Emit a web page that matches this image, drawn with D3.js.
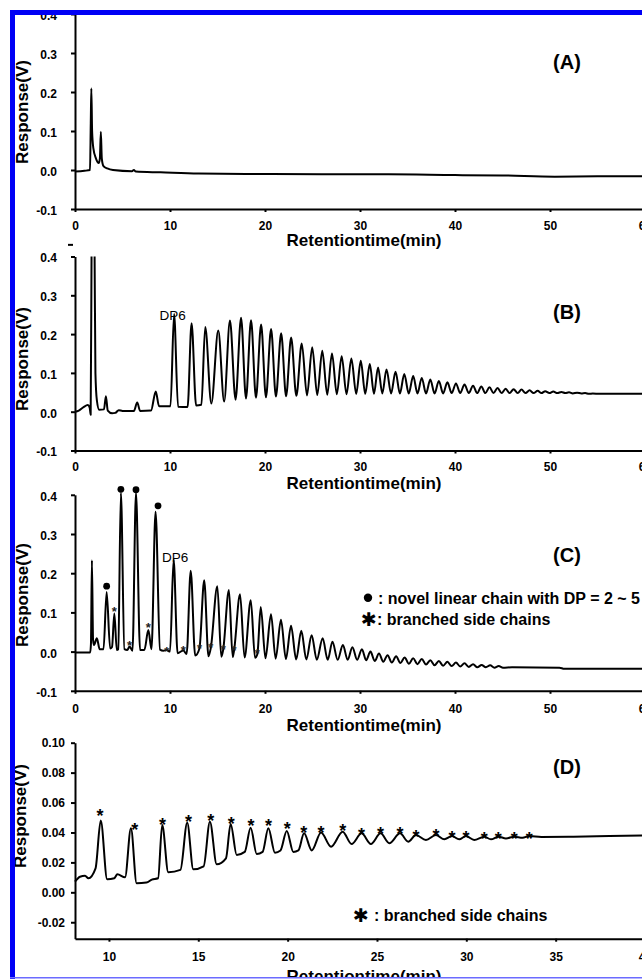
<!DOCTYPE html>
<html>
<head>
<meta charset="utf-8">
<script src="https://cdn.jsdelivr.net/npm/d3@7"></script>
<style>
  html, body { margin: 0; padding: 0; background: #fff; }
  svg { display: block; font-family: "Liberation Sans", Arial, sans-serif; }
  .axis path, .axis line { stroke: #000; stroke-width: 2; }
  .axis text { font-size: 12px; font-weight: bold; fill: #000; font-family: "Liberation Sans", Arial, sans-serif; }
  .trace { fill: none; stroke: #000; stroke-width: 2; stroke-linejoin: round; }
  .xtitle, .ytitle { font-size: 17px; font-weight: bold; text-anchor: middle; }
  .ytitle { dominant-baseline: central; }
  .tag { font-size: 20px; font-weight: bold; text-anchor: middle; }
  .dp { font-size: 13.5px; }
  .legend { font-size: 16px; font-weight: bold; }
  .star { font-weight: bold; text-anchor: middle; }
</style>
</head>
<body>
<svg id="chart" width="642" height="979"></svg>
<script>
// ticks
const xTicks = [0, 10, 20, 30, 40, 50, 60];
const yTicks = [-0.1, 0, 0.1, 0.2, 0.3, 0.4];
const xTicksD = [10, 15, 20, 25, 30, 35, 40];
const yTicksD = [-0.02, 0, 0.02, 0.04, 0.06, 0.08, 0.10];

// traces as [time (min), response (V)]
const traceA = [
  [0, -0.004], [1.0, -0.002], [1.58, 0.0], [1.66, 0.12], [1.72, 0.209], [1.8, 0.1],
  [1.93, 0.056], [2.2, 0.03], [2.5, 0.018], [2.62, 0.03], [2.72, 0.098], [2.82, 0.03],
  [3.0, 0.01], [3.4, 0.004], [4.0, 0.0], [6.0, -0.003], [6.2, 0.0], [6.4, -0.004],
  [9, -0.006], [13, -0.009], [18, -0.010], [26, -0.011], [33, -0.011], [40, -0.013],
  [45, -0.014], [50.5, -0.017], [55, -0.016], [60, -0.016]
];

const traceB = [
  [0, 0.0], [0.4, 0.003], [0.9, 0.012], [1.35, 0.017], [1.55, 0.01], [1.65, -0.008],
  [1.75, 0.45], [1.9, 0.7], [2.05, 0.45], [2.15, 0.1], [2.3, 0.03], [2.55, 0.005],
  [3.05, 0.006], [3.25, 0.04], [3.45, 0.003], [3.9, -0.004], [4.25, -0.003], [4.6, 0.004],
  [5.0, 0.002], [6.2, 0.002], [6.55, 0.024], [6.85, 0.002], [8.0, 0.003], [8.5, 0.052],
  [8.85, 0.014], [10.05, 0.014], [10.43, 0.252], [10.85, 0.013], [11.85, 0.012],
  [12.27, 0.228], [12.75, 0.016], [13.3, 0.018], [13.71, 0.218], [14.35, 0.021],
  [15.08, 0.209], [15.7, 0.026], [16.31, 0.235], [16.9, 0.031], [17.48, 0.242],
  [18.0, 0.034], [18.53, 0.236], [19.05, 0.036], [19.59, 0.225], [20.1, 0.037],
  [20.64, 0.213], [21.15, 0.039], [21.7, 0.202], [22.22, 0.040], [22.75, 0.191],
  [23.3, 0.041], [23.87, 0.176], [24.42, 0.042], [24.97, 0.166], [25.5, 0.043],
  [26.03, 0.157], [26.55, 0.044], [27.05, 0.150], [27.56, 0.045], [28.07, 0.143],
  [28.58, 0.045], [29.09, 0.137], [29.6, 0.046], [30.08, 0.131], [30.55, 0.046],
  [31.03, 0.123], [31.47, 0.046], [31.9, 0.114], [32.35, 0.047], [32.79, 0.109],
  [33.27, 0.047], [33.74, 0.103], [34.2, 0.047], [34.66, 0.097], [35.13, 0.047],
  [35.6, 0.092], [36.05, 0.047], [36.5, 0.087], [36.95, 0.047], [37.4, 0.083],
  [37.85, 0.047], [38.3, 0.079], [38.75, 0.047], [39.2, 0.076], [39.65, 0.048],
  [40.1, 0.073], [40.55, 0.048], [41.0, 0.070], [41.45, 0.048], [41.9, 0.067],
  [42.33, 0.048], [42.77, 0.065], [43.2, 0.048], [43.63, 0.063], [44.05, 0.048],
  [44.48, 0.061], [44.9, 0.048], [45.33, 0.059], [45.75, 0.048], [46.17, 0.058],
  [46.6, 0.048], [47.0, 0.057], [47.42, 0.048], [47.85, 0.055], [48.27, 0.048],
  [48.7, 0.054], [49.1, 0.048], [49.5, 0.053], [49.93, 0.048], [50.35, 0.052],
  [50.77, 0.048], [51.2, 0.051], [51.6, 0.048], [52.0, 0.050], [52.4, 0.047],
  [52.85, 0.049], [53.3, 0.047], [53.7, 0.048], [54.1, 0.046], [54.5, 0.047],
  [55.2, 0.046], [60, 0.046]
];

const traceC = [
  [0, -0.002], [1.6, -0.002], [1.68, 0.02], [1.78, 0.233], [1.9, 0.03], [2.0, 0.017],
  [2.3, 0.034], [2.6, 0.006], [3.0, 0.006], [3.33, 0.152], [3.7, 0.008], [3.9, 0.012],
  [4.14, 0.097], [4.4, 0.004], [4.55, 0.006], [4.83, 0.405], [5.2, 0.006], [5.5, 0.004],
  [5.75, 0.013], [6.05, 0.002], [6.42, 0.405], [6.85, 0.004], [7.3, 0.004], [7.72, 0.055],
  [8.05, 0.006], [8.48, 0.357], [8.95, 0.005], [9.3, 0.002], [9.65, 0.004], [10.0, 0.0],
  [10.38, 0.235], [10.8, -0.004], [11.4, 0.003], [11.75, -0.006], [12.18, 0.206],
  [12.65, -0.010], [13.1, 0.008], [13.6, 0.182], [14.05, -0.012], [14.3, 0.010],
  [14.98, 0.167], [15.4, -0.013], [15.6, 0.005], [16.2, 0.157], [16.6, -0.014],
  [16.75, 0.004], [17.37, 0.146], [17.85, -0.015], [18.5, 0.131], [18.95, -0.016],
  [19.2, -0.006], [19.55, 0.114], [20.05, -0.017], [20.63, 0.095], [21.12, -0.018],
  [21.68, 0.081], [22.2, -0.019], [22.74, 0.066], [23.28, -0.020], [23.82, 0.053],
  [24.35, -0.020], [24.91, 0.042], [25.45, -0.021], [26.07, 0.034], [26.6, -0.021],
  [27.1, 0.025], [27.65, -0.021], [28.2, 0.017], [28.7, -0.021], [29.2, 0.011],
  [29.7, -0.021], [30.2, 0.006], [30.65, -0.022], [31.1, 0.0], [31.55, -0.024],
  [32.0, -0.005], [32.45, -0.026], [32.9, -0.009], [33.35, -0.028], [33.8, -0.012],
  [34.25, -0.029], [34.7, -0.015], [35.15, -0.031], [35.6, -0.017], [36.05, -0.032],
  [36.5, -0.019], [36.95, -0.033], [37.4, -0.022], [37.85, -0.035], [38.3, -0.024],
  [38.75, -0.036], [39.2, -0.026], [39.65, -0.037], [40.1, -0.028], [40.55, -0.038],
  [41.0, -0.030], [41.45, -0.039], [41.9, -0.032], [42.35, -0.040], [42.8, -0.034],
  [43.25, -0.040], [43.7, -0.035], [44.15, -0.041], [44.6, -0.037], [45.05, -0.041],
  [46, -0.040], [51, -0.041], [51.5, -0.044], [60, -0.044]
];

const traceD = [
  [8.1, 0.0071], [8.38, 0.0104], [8.66, 0.011], [8.85, 0.0094], [9.25, 0.016],
  [9.54, 0.048], [9.9, 0.0087], [10.3, 0.0094], [10.47, 0.012], [10.9, 0.010],
  [11.23, 0.0428], [11.55, 0.006], [12.1, 0.0065], [12.4, 0.0085], [12.75, 0.0094],
  [12.98, 0.045], [13.32, 0.0134], [14.0, 0.015], [14.38, 0.0465], [14.72, 0.0154],
  [15.3, 0.0174], [15.65, 0.0472], [16.03, 0.0187], [16.55, 0.0227], [16.81, 0.0457],
  [17.15, 0.025], [17.6, 0.027], [17.93, 0.0432], [18.27, 0.0256], [18.6, 0.027],
  [18.92, 0.0428], [19.29, 0.0265], [19.6, 0.028], [19.95, 0.041], [20.32, 0.027],
  [20.6, 0.028], [20.92, 0.0394], [21.35, 0.028], [21.87, 0.040], [22.43, 0.0305],
  [23.08, 0.0405], [23.58, 0.0323], [24.14, 0.0394], [24.66, 0.0323], [25.2, 0.0394],
  [25.69, 0.0328], [26.29, 0.0394], [26.75, 0.0338], [27.18, 0.0383], [27.74, 0.035],
  [28.3, 0.0383], [28.77, 0.0354], [29.2, 0.0376], [29.6, 0.0354], [29.98, 0.0376],
  [30.44, 0.035], [31.0, 0.0372], [31.38, 0.0354], [31.79, 0.0372], [32.22, 0.036],
  [32.68, 0.0372], [33.15, 0.0365], [33.52, 0.0376], [34.2, 0.037], [36, 0.0372],
  [38, 0.0376], [40, 0.038]
];

// peak markers
const dotsC = [[3.33, 0.167], [4.83, 0.414], [6.42, 0.413], [8.74, 0.372]];
const starsC = [[4.14, 0.110], [5.75, 0.024], [7.72, 0.068], [9.65, 0.008], [11.4, 0.009],
  [13.1, 0.016], [14.3, 0.019], [15.6, 0.012], [16.75, 0.011], [19.2, 0.003]];
const starsD = [[9.5, 0.0539], [11.45, 0.0443], [13.0, 0.0479], [14.45, 0.0501], [15.7, 0.0505],
  [16.85, 0.0488], [17.95, 0.0472], [18.93, 0.0472], [19.98, 0.045], [20.9, 0.0428],
  [21.87, 0.0428], [23.08, 0.0439], [24.14, 0.0412], [25.2, 0.0421], [26.29, 0.0416],
  [27.18, 0.0398], [28.3, 0.0405], [29.2, 0.0394], [29.98, 0.0394], [31.0, 0.0388],
  [31.79, 0.0388], [32.68, 0.0388], [33.52, 0.0388]];

const svg = d3.select('#chart');
const defs = svg.append('defs');
defs.append('clipPath').attr('id', 'frame').append('rect')
  .attr('x', 15).attr('y', 15).attr('width', 627).attr('height', 962);
const plot = svg.append('g').attr('clip-path', 'url(#frame)');

function drawPanel(p) {
  const x = d3.scaleLinear().domain(p.xDomain).range([75, 645]);
  const y = d3.scaleLinear().domain(p.yDomain).range(p.yRange);
  const g = plot.append('g');

  g.append('g').attr('class', 'axis')
    .attr('transform', `translate(0,${p.yRange[0]})`)
    .call(d3.axisBottom(x).tickValues(p.xTicks).tickSize(3).tickSizeOuter(0).tickPadding(p.xPad));

  g.append('g').attr('class', 'axis')
    .attr('transform', 'translate(75,0)')
    .call(d3.axisLeft(y).tickValues(p.yTicks).tickSize(4).tickSizeOuter(0).tickPadding(p.yPad)
      .tickFormat(d => d.toFixed(p.digits)))
    .selectAll('text').attr('dy', p.yDy);

  let traceG = g;
  if (p.clipTop != null) {
    defs.append('clipPath').attr('id', 'clip' + p.id).append('rect')
      .attr('x', 60).attr('y', y(p.clipTop)).attr('width', 600).attr('height', 979);
    traceG = g.append('g').attr('clip-path', `url(#clip${p.id})`);
  }
  const line = d3.line().x(d => x(d[0])).y(d => y(d[1])).curve(d3.curveMonotoneX);
  traceG.append('path').datum(p.trace).attr('class', 'trace').attr('d', line);

  g.append('text').attr('class', 'xtitle').attr('x', 364).attr('y', p.xTitleY).text('Retentiontime(min)');
  g.append('text').attr('class', 'ytitle')
    .attr('transform', `translate(${p.yTitleX},${p.yTitleY}) rotate(-90)`).text('Response(V)');
  g.append('text').attr('class', 'tag').attr('x', 567).attr('y', p.tagY).text(`(${p.id})`);
  return { x, y, g };
}

const A = drawPanel({ id: 'A', trace: traceA, xDomain: [0, 60], yDomain: [-0.1, 0.4], yRange: [209, 14],
  xTicks: xTicks, yTicks: yTicks, digits: 1, xPad: 9, yPad: 14, yDy: '0.45em',
  xTitleY: 246, yTitleX: 22, yTitleY: 112, tagY: 69 });

const B = drawPanel({ id: 'B', trace: traceB, xDomain: [0, 60], yDomain: [-0.1, 0.4], yRange: [450.5, 256.5],
  xTicks: xTicks, yTicks: yTicks, digits: 1, xPad: 9, yPad: 14, yDy: '0.45em', clipTop: 0.4,
  xTitleY: 488.5, yTitleX: 22, yTitleY: 359, tagY: 319 });

const C = drawPanel({ id: 'C', trace: traceC, xDomain: [0, 60], yDomain: [-0.1, 0.4], yRange: [690.8, 494.8],
  xTicks: xTicks, yTicks: yTicks, digits: 1, xPad: 11, yPad: 14, yDy: '0.45em',
  xTitleY: 731, yTitleX: 22, yTitleY: 595, tagY: 562 });

const D = drawPanel({ id: 'D', trace: traceD, xDomain: [8.1, 40], yDomain: [-0.031, 0.10], yRange: [938.7, 742.7],
  xTicks: xTicksD, yTicks: yTicksD, digits: 2, xPad: 11, yPad: 6, yDy: '0.32em',
  xTitleY: 982, yTitleX: 20, yTitleY: 816, tagY: 774 });

// stray mark above the B axis
B.g.append('line').attr('x1', 68).attr('x2', 73).attr('y1', B.y(0.43)).attr('y2', B.y(0.43))
  .attr('stroke', '#000').attr('stroke-width', 2);

// DP6 labels
B.g.append('text').attr('class', 'dp').attr('x', B.x(8.9)).attr('y', 319.5).text('DP6');
C.g.append('text').attr('class', 'dp').attr('x', C.x(9.15)).attr('y', 561.5).text('DP6');

// C markers
C.g.selectAll('.dot').data(dotsC).enter().append('circle')
  .attr('cx', d => C.x(d[0])).attr('cy', d => C.y(d[1])).attr('r', 3.4).attr('fill', '#000');
C.g.selectAll('.starC').data(starsC).enter().append('text').attr('class', 'star')
  .attr('font-size', 13).attr('fill', '#222')
  .attr('x', d => C.x(d[0])).attr('y', d => C.y(d[1]) + 13 * 0.57).text('*');

D.g.selectAll('.starD').data(starsD).enter().append('text').attr('class', 'star')
  .attr('font-size', 18)
  .attr('x', d => D.x(d[0])).attr('y', d => D.y(d[1]) + 18 * 0.57).text('*');

// legends
C.g.append('circle').attr('cx', 368).attr('cy', 597.7).attr('r', 4.2).attr('fill', '#000');
C.g.append('text').attr('class', 'legend').attr('x', 378).attr('y', 603.5).text(': novel linear chain with DP = 2 ~ 5');
C.g.append('text').attr('x', 369).attr('y', 626).attr('text-anchor', 'middle')
  .style('font-family', '"DejaVu Sans"').style('font-size', '19px').text('\u2731');
C.g.append('text').attr('class', 'legend').attr('x', 377).attr('y', 625).text(': branched side chains');

D.g.append('text').attr('x', 361).attr('y', 922).attr('text-anchor', 'middle')
  .style('font-family', '"DejaVu Sans"').style('font-size', '19px').text('\u2731');
D.g.append('text').attr('class', 'legend').attr('x', 374).attr('y', 921).text(': branched side chains');

// blue frame
svg.append('rect').attr('x', 10).attr('y', 10).attr('width', 5).attr('height', 969).attr('fill', '#0000f5');
svg.append('rect').attr('x', 10).attr('y', 10).attr('width', 632).attr('height', 5).attr('fill', '#0000f5');
svg.append('rect').attr('x', 10).attr('y', 977).attr('width', 632).attr('height', 1.5).attr('fill', '#6b6bff');
</script>
</body>
</html>
